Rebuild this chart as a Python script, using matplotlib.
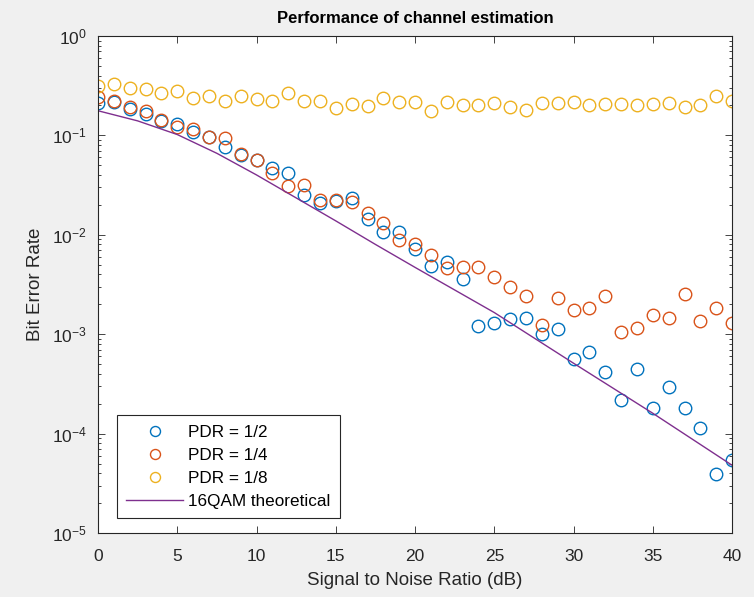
import numpy as np
import matplotlib
matplotlib.use('Agg')
import matplotlib.pyplot as plt

plt.rcParams['font.family'] = ['Liberation Sans', 'DejaVu Sans']
plt.rcParams['mathtext.fontset'] = 'custom'
plt.rcParams['mathtext.rm'] = 'Liberation Sans'

# SNR points (dB)
snr = np.arange(0, 41)

# PDR = 1/2
ber_half = [0.213, 0.215, 0.184, 0.165, 0.14, 0.129, 0.107, 0.097, 0.076, 0.064,
            0.057, 0.047, 0.0416, 0.025, 0.021, 0.022, 0.0236, 0.0145, 0.0107, 0.0107,
            0.0072, 0.00485, 0.00529, 0.00359, 0.00122, 0.00129, 0.00141, 0.00144, 0.0010, 0.00112,
            0.00056, 0.00066, 0.00042, 0.00022, 0.00045, 0.00018, 0.000295, 0.000182, 0.000114, 3.9e-5,
            5.4e-5]

# PDR = 1/4
ber_quarter = [0.245, 0.22, 0.194, 0.176, 0.143, 0.122, 0.117, 0.097, 0.094, 0.065,
               0.057, 0.042, 0.031, 0.0316, 0.0222, 0.0223, 0.0215, 0.0167, 0.0132, 0.00887,
               0.00808, 0.0062, 0.00463, 0.00478, 0.00478, 0.0038, 0.0030, 0.00244, 0.00124, 0.00231,
               0.00175, 0.00185, 0.00244, 0.00106, 0.00115, 0.00156, 0.00144, 0.00251, 0.00136, 0.00183,
               0.00131]

# PDR = 1/8
ber_eighth = [0.314, 0.33, 0.30, 0.29, 0.27, 0.28, 0.24, 0.25, 0.22, 0.25,
              0.23, 0.22, 0.265, 0.22, 0.22, 0.19, 0.207, 0.197, 0.236, 0.215,
              0.215, 0.177, 0.215, 0.20, 0.20, 0.21, 0.194, 0.18, 0.21, 0.21,
              0.218, 0.20, 0.205, 0.207, 0.20, 0.205, 0.21, 0.194, 0.20, 0.249,
              0.22]

# 16QAM theoretical curve
snr_theory = [0, 2.5, 5, 7.5, 10, 12.5, 15, 17.5, 20, 25, 30, 35, 40]
ber_theory = [0.177, 0.14, 0.102, 0.066, 0.040, 0.0235, 0.0138, 0.0080, 0.0047,
              0.00165, 0.00051, 0.00016, 4.8e-5]

fig = plt.figure(figsize=(7.54, 5.97), dpi=100, facecolor='#f0f0f0')
ax = fig.add_axes([0.130, 0.1072, 0.841, 0.8325])

mk = dict(linestyle='none', marker='o', markersize=9, markerfacecolor='none',
          markeredgewidth=1.0)
ax.plot(snr, ber_half, color='#0072BD', label='PDR = 1/2', **mk)
ax.plot(snr, ber_quarter, color='#D95319', label='PDR = 1/4', **mk)
ax.plot(snr, ber_eighth, color='#EDB120', label='PDR = 1/8', **mk)
ax.plot(snr_theory, ber_theory, color='#7E2F8E', linewidth=1.0, label='16QAM theoretical')

ax.set_yscale('log')
ax.set_xlim(0, 40)
ax.set_ylim(1e-5, 1)
ax.set_xticks(range(0, 41, 5))
ax.tick_params(which='both', direction='in', top=True, right=True, labelsize=12.5,
               colors='#262626', width=0.6)
ax.tick_params(which='major', length=5)
ax.tick_params(which='minor', length=2.5)
ax.tick_params(axis='x', pad=11.5)
ax.tick_params(axis='y', pad=8)
for s in ax.spines.values():
    s.set_color('#262626')
    s.set_linewidth(0.8)

ax.set_xlabel('Signal to Noise Ratio (dB)', fontsize=13.5, color='#262626', labelpad=6)
ax.set_ylabel('Bit Error Rate', fontsize=13.5, color='#262626', labelpad=6)
ax.set_title('Performance of channel estimation', fontsize=12, fontweight='bold',
             color='black', pad=9)

leg = ax.legend(loc='lower left', bbox_to_anchor=(0.03, 0.03), fontsize=12.3, fancybox=False,
                framealpha=1, edgecolor='#262626', borderpad=0.55, handlelength=3.3,
                handletextpad=0.3, labelspacing=0.47, markerscale=0.8, borderaxespad=0)
leg.get_frame().set_linewidth(0.8)

fig.savefig('out.png', dpi=100, facecolor=fig.get_facecolor())
